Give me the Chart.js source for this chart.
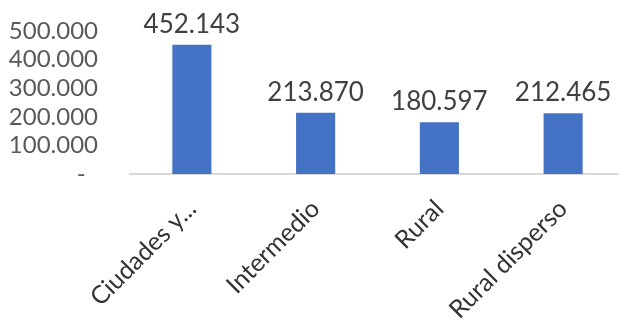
<!DOCTYPE html>
<html>
<head>
<meta charset="utf-8">
<script src="https://cdn.jsdelivr.net/npm/chart.js@4"></script>
<style>
  html, body { margin: 0; padding: 0; background: #fff; overflow: hidden; }
  #wrap { width: 625px; height: 322px; }
</style>
</head>
<body>
<div id="wrap"><canvas id="chart"></canvas></div>
<script>
const categories = ['Ciudades y...', 'Intermedio', 'Rural', 'Rural disperso'];
const values = [452143, 213870, 180597, 212465];
const yTicks = [0, 100000, 200000, 300000, 400000, 500000];

const fmt = v => v === 0 ? '-  ' : v.toLocaleString('de-DE');

// draws the value above every bar
const barLabels = {
  id: 'barLabels',
  afterDatasetsDraw(chart) {
    const ctx = chart.ctx;
    const meta = chart.getDatasetMeta(0);
    ctx.save();
    ctx.font = '26px Lato';
    ctx.fillStyle = '#404040';
    ctx.textAlign = 'center';
    ctx.textBaseline = 'alphabetic';
    meta.data.forEach((bar, i) => {
      ctx.fillText(fmt(values[i]), bar.x, bar.y - 12);
    });
    ctx.restore();
  }
};

new Chart(document.getElementById('chart'), {
  type: 'bar',
  data: {
    labels: categories,
    datasets: [{
      data: values,
      backgroundColor: '#4472C4',
      categoryPercentage: 1,
      barPercentage: 0.316
    }]
  },
  options: {
    responsive: true,
    maintainAspectRatio: false,
    animation: false,
    layout: { padding: { top: 31, right: 0, left: 0, bottom: 0 } },
    plugins: { legend: { display: false }, tooltip: { enabled: false } },
    scales: {
      x: {
        grid: { display: false },
        border: { color: '#d9d9d9', width: 2 },
        ticks: {
          color: '#333333',
          font: { family: 'Lato', size: 25 },
          minRotation: 45,
          maxRotation: 45,
          autoSkip: false,
          padding: 12
        },
        afterFit: s => { s.height = 148; s.paddingLeft = 0; s.paddingRight = 0; }
      },
      y: {
        min: 0,
        max: 500000,
        afterBuildTicks: s => { s.ticks = yTicks.map(v => ({ value: v })); },
        grid: { display: false },
        border: { display: false },
        ticks: {
          color: '#595959',
          font: { family: 'Lato', size: 24 },
          padding: 24,
          autoSkip: false,
          callback: v => fmt(v)
        },
        afterFit: s => { s.width = 130; s.paddingTop = 0; s.paddingBottom = 0; }
      }
    }
  },
  plugins: [barLabels]
});
</script>
</body>
</html>
